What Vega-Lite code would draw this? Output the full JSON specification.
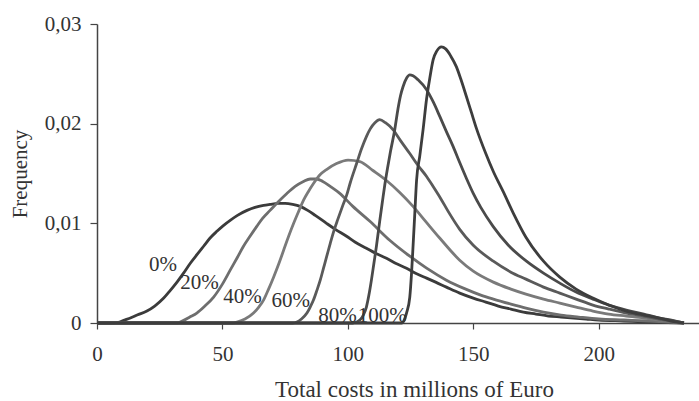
{
  "$schema": "https://vega.github.io/schema/vega-lite/v6.json",
  "width": 602,
  "height": 299,
  "autosize": {"type": "none"},
  "padding": {"left": 97, "top": 24, "right": 0, "bottom": 78},
  "background": "white",
  "config": {"view": {"stroke": null}, "font": "Liberation Serif"},
  "datasets": {
    "curves": [
      {"s":"0%","x":0,"y":0},{"s":"0%","x":6,"y":0},{"s":"0%","x":9,"y":0.0001},{"s":"0%","x":11,"y":0.0003},{"s":"0%","x":13.3,"y":0.0005},{"s":"0%","x":16,"y":0.0008},{"s":"0%","x":19.9,"y":0.0012},{"s":"0%","x":23,"y":0.0017},{"s":"0%","x":26.6,"y":0.0025},{"s":"0%","x":29,"y":0.0032},{"s":"0%","x":31.9,"y":0.0041},{"s":"0%","x":34.5,"y":0.005},{"s":"0%","x":37.2,"y":0.006},{"s":"0%","x":40,"y":0.0069},{"s":"0%","x":42.5,"y":0.0077},{"s":"0%","x":45,"y":0.0085},{"s":"0%","x":47.8,"y":0.0092},{"s":"0%","x":50.5,"y":0.0098},{"s":"0%","x":53.1,"y":0.0103},{"s":"0%","x":56,"y":0.0108},{"s":"0%","x":59.8,"y":0.0113},{"s":"0%","x":63,"y":0.0116},{"s":"0%","x":66.4,"y":0.0118},{"s":"0%","x":69,"y":0.0119},{"s":"0%","x":72,"y":0.012},{"s":"0%","x":75,"y":0.012},{"s":"0%","x":78,"y":0.0119},{"s":"0%","x":81,"y":0.0117},{"s":"0%","x":84,"y":0.0113},{"s":"0%","x":87,"y":0.0108},{"s":"0%","x":91.5,"y":0.01},{"s":"0%","x":95,"y":0.0094},{"s":"0%","x":99.5,"y":0.0087},{"s":"0%","x":103,"y":0.0081},{"s":"0%","x":107.4,"y":0.0075},{"s":"0%","x":111,"y":0.007},{"s":"0%","x":115.4,"y":0.0065},{"s":"0%","x":119,"y":0.006},{"s":"0%","x":123.4,"y":0.0055},{"s":"0%","x":127,"y":0.005},{"s":"0%","x":131.4,"y":0.0045},{"s":"0%","x":135,"y":0.0041},{"s":"0%","x":139.3,"y":0.0036},{"s":"0%","x":144.6,"y":0.003},{"s":"0%","x":150,"y":0.0025},{"s":"0%","x":155,"y":0.0021},{"s":"0%","x":160,"y":0.0017},{"s":"0%","x":165,"y":0.0014},{"s":"0%","x":170,"y":0.0011},{"s":"0%","x":175,"y":0.0009},{"s":"0%","x":180,"y":0.0007},{"s":"0%","x":185,"y":0.0006},{"s":"0%","x":190,"y":0.0005},{"s":"0%","x":195,"y":0.0004},{"s":"0%","x":200,"y":0.0003},{"s":"0%","x":210,"y":0.0002},{"s":"0%","x":220,"y":0.0001},{"s":"0%","x":234,"y":0},

      {"s":"20%","x":0,"y":0},{"s":"20%","x":32,"y":0},{"s":"20%","x":34,"y":0.0002},{"s":"20%","x":37,"y":0.0006},{"s":"20%","x":39.8,"y":0.001},{"s":"20%","x":43,"y":0.0017},{"s":"20%","x":46.5,"y":0.0026},{"s":"20%","x":50,"y":0.0039},{"s":"20%","x":53.1,"y":0.0053},{"s":"20%","x":56,"y":0.0066},{"s":"20%","x":58.4,"y":0.0077},{"s":"20%","x":61,"y":0.0087},{"s":"20%","x":63.7,"y":0.0097},{"s":"20%","x":66,"y":0.0105},{"s":"20%","x":69,"y":0.0113},{"s":"20%","x":72,"y":0.0121},{"s":"20%","x":75.7,"y":0.013},{"s":"20%","x":79,"y":0.0137},{"s":"20%","x":82.3,"y":0.0142},{"s":"20%","x":85,"y":0.01445},{"s":"20%","x":87.5,"y":0.01445},{"s":"20%","x":90,"y":0.0142},{"s":"20%","x":93,"y":0.0137},{"s":"20%","x":96.8,"y":0.013},{"s":"20%","x":102,"y":0.0117},{"s":"20%","x":108.8,"y":0.0102},{"s":"20%","x":116.7,"y":0.0083},{"s":"20%","x":124.7,"y":0.0067},{"s":"20%","x":131.4,"y":0.0055},{"s":"20%","x":139.3,"y":0.0043},{"s":"20%","x":147,"y":0.0034},{"s":"20%","x":153,"y":0.0028},{"s":"20%","x":158,"y":0.0024},{"s":"20%","x":165,"y":0.0019},{"s":"20%","x":171,"y":0.0015},{"s":"20%","x":178,"y":0.0011},{"s":"20%","x":185,"y":0.0008},{"s":"20%","x":192,"y":0.0006},{"s":"20%","x":200,"y":0.0004},{"s":"20%","x":210,"y":0.0003},{"s":"20%","x":220,"y":0.0002},{"s":"20%","x":228,"y":0.0001},{"s":"20%","x":234,"y":0},

      {"s":"40%","x":0,"y":0},{"s":"40%","x":54,"y":0},{"s":"40%","x":55.8,"y":0.0001},{"s":"40%","x":59,"y":0.0004},{"s":"40%","x":62.4,"y":0.001},{"s":"40%","x":64.5,"y":0.0016},{"s":"40%","x":66.4,"y":0.0023},{"s":"40%","x":68.4,"y":0.0034},{"s":"40%","x":70.4,"y":0.0046},{"s":"40%","x":72.4,"y":0.0059},{"s":"40%","x":74.4,"y":0.0073},{"s":"40%","x":76.4,"y":0.0087},{"s":"40%","x":78.4,"y":0.01},{"s":"40%","x":80.4,"y":0.0112},{"s":"40%","x":82.3,"y":0.0123},{"s":"40%","x":84.3,"y":0.0132},{"s":"40%","x":86.3,"y":0.014},{"s":"40%","x":89,"y":0.0149},{"s":"40%","x":91.5,"y":0.0154},{"s":"40%","x":95.5,"y":0.016},{"s":"40%","x":100.1,"y":0.01635},{"s":"40%","x":104.8,"y":0.0162},{"s":"40%","x":110,"y":0.0153},{"s":"40%","x":115.4,"y":0.0143},{"s":"40%","x":120.7,"y":0.0131},{"s":"40%","x":126,"y":0.0117},{"s":"40%","x":131,"y":0.0102},{"s":"40%","x":136.7,"y":0.0085},{"s":"40%","x":144.6,"y":0.0063},{"s":"40%","x":150,"y":0.0052},{"s":"40%","x":158,"y":0.0041},{"s":"40%","x":165,"y":0.0034},{"s":"40%","x":171,"y":0.0029},{"s":"40%","x":178,"y":0.0024},{"s":"40%","x":184.5,"y":0.002},{"s":"40%","x":191,"y":0.0016},{"s":"40%","x":197.7,"y":0.0012},{"s":"40%","x":204,"y":0.0009},{"s":"40%","x":211,"y":0.0007},{"s":"40%","x":218,"y":0.0005},{"s":"40%","x":224,"y":0.0003},{"s":"40%","x":229,"y":0.0002},{"s":"40%","x":234,"y":0},

      {"s":"60%","x":0,"y":0},{"s":"60%","x":78,"y":0},{"s":"60%","x":79.7,"y":0.0001},{"s":"60%","x":81.5,"y":0.0004},{"s":"60%","x":83.7,"y":0.001},{"s":"60%","x":85,"y":0.0016},{"s":"60%","x":86.3,"y":0.0023},{"s":"60%","x":87.7,"y":0.0033},{"s":"60%","x":89,"y":0.0043},{"s":"60%","x":90.3,"y":0.0055},{"s":"60%","x":91.6,"y":0.0067},{"s":"60%","x":93,"y":0.008},{"s":"60%","x":94.5,"y":0.0093},{"s":"60%","x":96,"y":0.0104},{"s":"60%","x":98,"y":0.0118},{"s":"60%","x":99.5,"y":0.0128},{"s":"60%","x":101,"y":0.0141},{"s":"60%","x":103.5,"y":0.016},{"s":"60%","x":105.5,"y":0.0175},{"s":"60%","x":107.4,"y":0.0187},{"s":"60%","x":109,"y":0.0195},{"s":"60%","x":110.8,"y":0.0201},{"s":"60%","x":112.7,"y":0.0204},{"s":"60%","x":115,"y":0.0201},{"s":"60%","x":118,"y":0.0194},{"s":"60%","x":121,"y":0.0183},{"s":"60%","x":124.7,"y":0.017},{"s":"60%","x":128,"y":0.0158},{"s":"60%","x":131.4,"y":0.0147},{"s":"60%","x":134,"y":0.0137},{"s":"60%","x":137,"y":0.0125},{"s":"60%","x":140,"y":0.0112},{"s":"60%","x":144.6,"y":0.0094},{"s":"60%","x":150,"y":0.0078},{"s":"60%","x":158,"y":0.0062},{"s":"60%","x":165,"y":0.0051},{"s":"60%","x":171,"y":0.0044},{"s":"60%","x":178,"y":0.0036},{"s":"60%","x":184.5,"y":0.003},{"s":"60%","x":191,"y":0.0024},{"s":"60%","x":197.7,"y":0.0018},{"s":"60%","x":204,"y":0.0014},{"s":"60%","x":211,"y":0.001},{"s":"60%","x":218,"y":0.0007},{"s":"60%","x":224,"y":0.0004},{"s":"60%","x":229,"y":0.0002},{"s":"60%","x":234,"y":0},

      {"s":"80%","x":0,"y":0},{"s":"80%","x":102,"y":0},{"s":"80%","x":104.8,"y":0.0003},{"s":"80%","x":106.2,"y":0.0008},{"s":"80%","x":107.4,"y":0.0016},{"s":"80%","x":108.4,"y":0.0028},{"s":"80%","x":109.4,"y":0.0043},{"s":"80%","x":110.4,"y":0.006},{"s":"80%","x":111.4,"y":0.0077},{"s":"80%","x":112.7,"y":0.0102},{"s":"80%","x":113.8,"y":0.0122},{"s":"80%","x":114.7,"y":0.0138},{"s":"80%","x":115.8,"y":0.0155},{"s":"80%","x":117,"y":0.0172},{"s":"80%","x":118.7,"y":0.0194},{"s":"80%","x":120,"y":0.0215},{"s":"80%","x":121,"y":0.0228},{"s":"80%","x":122,"y":0.0237},{"s":"80%","x":123.5,"y":0.0246},{"s":"80%","x":124.7,"y":0.0249},{"s":"80%","x":126,"y":0.0248},{"s":"80%","x":128,"y":0.0244},{"s":"80%","x":131.4,"y":0.0234},{"s":"80%","x":134,"y":0.0222},{"s":"80%","x":136.7,"y":0.0207},{"s":"80%","x":139.3,"y":0.0192},{"s":"80%","x":142,"y":0.0177},{"s":"80%","x":144.6,"y":0.0161},{"s":"80%","x":147.3,"y":0.0145},{"s":"80%","x":150,"y":0.013},{"s":"80%","x":153,"y":0.0116},{"s":"80%","x":157.9,"y":0.0097},{"s":"80%","x":164,"y":0.0078},{"s":"80%","x":171.2,"y":0.0062},{"s":"80%","x":178,"y":0.005},{"s":"80%","x":184.5,"y":0.004},{"s":"80%","x":191,"y":0.0031},{"s":"80%","x":197.7,"y":0.0024},{"s":"80%","x":204,"y":0.0018},{"s":"80%","x":211,"y":0.0013},{"s":"80%","x":218,"y":0.0009},{"s":"80%","x":224.3,"y":0.0005},{"s":"80%","x":229,"y":0.0003},{"s":"80%","x":234,"y":0},

      {"s":"100%","x":0,"y":0},{"s":"100%","x":121.5,"y":0},{"s":"100%","x":122.3,"y":0.0002},{"s":"100%","x":123.4,"y":0.001},{"s":"100%","x":124.7,"y":0.0026},{"s":"100%","x":125.4,"y":0.005},{"s":"100%","x":126,"y":0.0077},{"s":"100%","x":126.7,"y":0.011},{"s":"100%","x":127.4,"y":0.0143},{"s":"100%","x":128.7,"y":0.0168},{"s":"100%","x":130,"y":0.0194},{"s":"100%","x":131.4,"y":0.0225},{"s":"100%","x":132.7,"y":0.0246},{"s":"100%","x":134,"y":0.0264},{"s":"100%","x":135.5,"y":0.0273},{"s":"100%","x":137.3,"y":0.0277},{"s":"100%","x":139,"y":0.0275},{"s":"100%","x":141,"y":0.0268},{"s":"100%","x":143.3,"y":0.0257},{"s":"100%","x":145,"y":0.0245},{"s":"100%","x":147.3,"y":0.0227},{"s":"100%","x":149.3,"y":0.0211},{"s":"100%","x":151.3,"y":0.0195},{"s":"100%","x":155,"y":0.017},{"s":"100%","x":158,"y":0.0152},{"s":"100%","x":161.9,"y":0.0132},{"s":"100%","x":166,"y":0.011},{"s":"100%","x":171,"y":0.0086},{"s":"100%","x":178,"y":0.0062},{"s":"100%","x":184.5,"y":0.0046},{"s":"100%","x":191,"y":0.0034},{"s":"100%","x":197.7,"y":0.0025},{"s":"100%","x":204,"y":0.0018},{"s":"100%","x":211,"y":0.0012},{"s":"100%","x":218,"y":0.0008},{"s":"100%","x":224.3,"y":0.0005},{"s":"100%","x":229,"y":0.0002},{"s":"100%","x":234,"y":0}
    ],
    "labels": [
      {"label":"0%","x":31.9,"y":0.0058},
      {"label":"20%","x":48.5,"y":0.004},
      {"label":"40%","x":65.7,"y":0.0026},
      {"label":"60%","x":84.9,"y":0.0022},
      {"label":"80%","x":103.6,"y":0.00075},
      {"label":"100%","x":123.5,"y":0.00075}
    ]
  },
  "layer": [
    {
      "data": {"name": "curves"},
      "mark": {"type": "line", "strokeWidth": 2.8, "interpolate": "monotone"},
      "encoding": {
        "x": {
          "field": "x", "type": "quantitative",
          "scale": {"domain": [0, 240], "nice": false},
          "axis": {
            "values": [0, 50, 100, 150, 200],
            "title": "Total costs in millions of Euro",
            "grid": false, "labelFlush": false,
            "domainColor": "#444", "domainWidth": 1.5,
            "tickColor": "#444", "tickSize": 6, "tickWidth": 1.2,
            "labelFont": "Liberation Serif", "labelFontSize": 21, "labelColor": "#333", "labelPadding": 14,
            "titleFont": "Liberation Serif", "titleFontSize": 23, "titleFontWeight": "normal", "titleColor": "#333",
            "titleX": 317, "titleY": 73, "titleBaseline": "alphabetic", "titleAlign": "center"
          }
        },
        "y": {
          "field": "y", "type": "quantitative",
          "scale": {"domain": [0, 0.03], "nice": false},
          "axis": {
            "values": [0, 0.01, 0.02, 0.03],
            "labelExpr": "datum.value == 0 ? '0' : replace(format(datum.value, '.2f'), '.', ',')",
            "title": "Frequency",
            "grid": false, "labelFlush": false,
            "domainColor": "#444", "domainWidth": 1.5,
            "tickColor": "#444", "tickSize": 7, "tickWidth": 1.2,
            "labelFont": "Liberation Serif", "labelFontSize": 21, "labelColor": "#333", "labelPadding": 9,
            "titleFont": "Liberation Serif", "titleFontSize": 21, "titleFontWeight": "normal", "titleColor": "#333",
            "titleX": -71, "titleY": 149.5, "titleBaseline": "alphabetic", "titleAlign": "center", "titleAngle": -90
          }
        },
        "color": {
          "field": "s", "type": "nominal",
          "scale": {"domain": ["0%", "20%", "40%", "60%", "80%", "100%"], "range": ["#3b3b3b", "#6e6e6e", "#7a7a7a", "#5a5a5a", "#4a4a4a", "#3d3d3d"]},
          "legend": null
        }
      }
    },
    {
      "data": {"name": "labels"},
      "mark": {"type": "text", "align": "right", "baseline": "middle", "font": "Liberation Serif", "fontSize": 21, "color": "#333"},
      "encoding": {
        "x": {"field": "x", "type": "quantitative"},
        "y": {"field": "y", "type": "quantitative"},
        "text": {"field": "label"}
      }
    }
  ]
}
